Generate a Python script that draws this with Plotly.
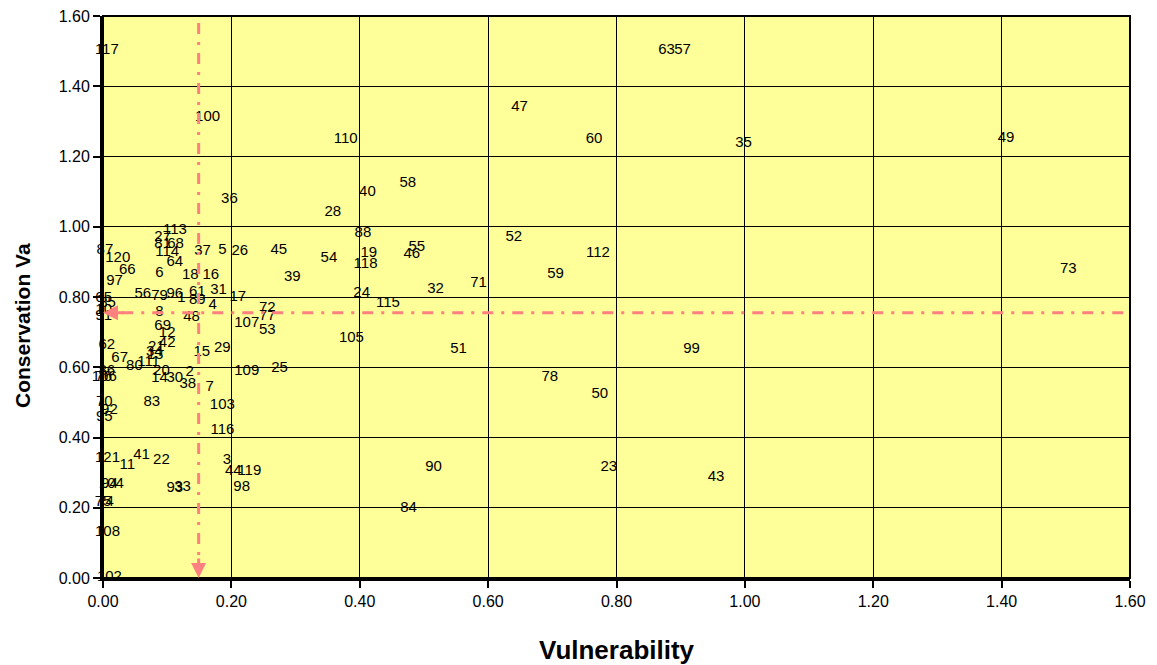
import plotly.graph_objects as go

# ---- data ----
labels = ["1","2","3","4","5","6","7","8","11","12","14","15","16","17","18","19","20","21","22","23",
          "24","25","26","27","28","29","30","31","32","33","35","36","37","38","39","40","41","42","43","44",
          "45","46","47","48","49","50","51","52","53","54","55","56","57","58","59","60","61","62","63","64",
          "65","66","67","68","69","70","71","72","73","74","75","76","77","78","79","80","81","83","84","85",
          "86","87","88","89","90","91","92","93","94","95","96","97","98","99","100","102","103","104","105","106",
          "107","108","109","110","111","112","113","114","115","116","117","118","119","120","121","10","13","34"]
vulnerability = [0.122,0.135,0.193,0.171,0.186,0.088,0.166,0.088,0.038,0.100,0.088,0.154,0.168,0.210,0.136,0.414,0.091,0.083,0.091,0.788,
                 0.403,0.275,0.213,0.093,0.358,0.186,0.112,0.180,0.518,0.124,0.998,0.197,0.155,0.132,0.295,0.412,0.060,0.100,0.955,0.203,
                 0.274,0.481,0.649,0.138,1.407,0.774,0.554,0.640,0.256,0.352,0.489,0.062,0.903,0.475,0.705,0.765,0.147,0.006,0.878,0.112,
                 0.001,0.038,0.026,0.113,0.093,0.002,0.585,0.256,1.504,0.004,0.000,0.001,0.256,0.696,0.088,0.049,0.093,0.076,0.476,0.007,
                 0.006,0.003,0.405,0.147,0.515,0.001,0.010,0.112,0.010,0.002,0.112,0.018,0.216,0.917,0.163,0.010,0.186,0.013,0.387,0.002,
                 0.224,0.007,0.224,0.378,0.071,0.771,0.112,0.100,0.444,0.186,0.006,0.409,0.228,0.023,0.007,0.001,0.081,0.080]
conservation = [0.797,0.586,0.336,0.777,0.934,0.868,0.544,0.757,0.322,0.698,0.569,0.643,0.863,0.800,0.863,0.925,0.589,0.658,0.336,0.316,
                0.811,0.598,0.931,0.971,1.042,0.655,0.569,0.820,0.823,0.259,1.238,1.079,0.931,0.552,0.857,1.099,0.350,0.669,0.288,0.305,
                0.934,0.922,1.341,0.743,1.253,0.524,0.652,0.971,0.706,0.911,0.942,0.809,1.503,1.125,0.865,1.250,0.814,0.663,1.503,0.900,
                0.797,0.877,0.626,0.951,0.718,0.501,0.840,0.769,0.880,0.216,0.216,0.572,0.746,0.572,0.803,0.604,0.951,0.501,0.199,0.783,
                0.589,0.934,0.982,0.791,0.316,0.746,0.478,0.256,0.268,0.458,0.809,0.846,0.259,0.652,1.312,0.003,0.493,0.268,0.683,0.572,
                0.726,0.131,0.589,1.250,0.615,0.925,0.991,0.928,0.783,0.421,1.503,0.894,0.305,0.911,0.342,0.763,0.635,0.644]

# reference (mean) lines
mean_vulnerability = 0.149
mean_conservation = 0.755

x_ticks = [0.0, 0.2, 0.4, 0.6, 0.8, 1.0, 1.2, 1.4, 1.6]
y_ticks = [0.0, 0.2, 0.4, 0.6, 0.8, 1.0, 1.2, 1.4, 1.6]

fig = go.Figure()
fig.add_trace(go.Scatter(
    x=vulnerability, y=conservation, text=labels, mode="text",
    textposition="middle center",
    textfont=dict(family="Liberation Sans Narrow, Arial Narrow, Liberation Sans, Arial", size=15, color="black"),
    cliponaxis=False, hoverinfo="text", showlegend=False,
))

pink = "#FF8080"
dash = "11px,8px,3px,8px"
fig.add_shape(type="line", xref="x", yref="y", x0=0.03, x1=1.6, y0=mean_conservation, y1=mean_conservation,
              line=dict(color=pink, width=3, dash=dash), layer="above")
fig.add_shape(type="line", xref="x", yref="y", x0=mean_vulnerability, x1=mean_vulnerability, y0=1.58, y1=0.04,
              line=dict(color=pink, width=3, dash=dash), layer="above")
fig.add_annotation(x=0, y=mean_conservation, ax=0.035, ay=mean_conservation, xref="x", yref="y", axref="x", ayref="y",
                   text="", showarrow=True, arrowhead=2, arrowsize=1, arrowwidth=3, arrowcolor=pink)
fig.add_annotation(x=mean_vulnerability, y=0, ax=mean_vulnerability, ay=0.06, xref="x", yref="y", axref="x", ayref="y",
                   text="", showarrow=True, arrowhead=2, arrowsize=1, arrowwidth=3, arrowcolor=pink)

# plot border
fig.add_shape(type="rect", xref="paper", yref="paper", x0=0, x1=1, y0=0, y1=1,
              line=dict(color="black", width=2), layer="above")

axis_common = dict(
    showgrid=True, gridcolor="black", gridwidth=1,
    showline=True, linecolor="black", linewidth=3,
    ticks="outside", ticklen=7, tickwidth=2, tickcolor="black",
    tickfont=dict(family="Liberation Sans, Arial", size=16, color="black"),
    tickformat=".2f", zeroline=False, automargin=False,
)
fig.update_xaxes(range=[0, 1.6], tickvals=x_ticks, **axis_common)
fig.update_yaxes(range=[0, 1.6], tickvals=y_ticks, **axis_common)

fig.add_annotation(text="<b>Vulnerability</b>", xref="paper", yref="paper", x=0.5, y=-0.128,
                   xanchor="center", yanchor="middle", showarrow=False,
                   font=dict(family="Liberation Sans, Arial", size=26, color="black"))
fig.add_annotation(text="<b>Conservation Va</b>", xref="paper", yref="paper", x=-0.079, y=0.45,
                   xanchor="center", yanchor="middle", showarrow=False, textangle=-90,
                   font=dict(family="Liberation Sans, Arial", size=21, color="black"))

fig.update_layout(
    width=1157, height=665,
    margin=dict(l=103, r=27, t=16, b=87),
    plot_bgcolor="#FFFF99", paper_bgcolor="white",
    showlegend=False,
)

fig.write_html("out.html", config={"displayModeBar": False},
               post_script="document.body.style.margin='0';document.body.style.overflow='hidden';")
